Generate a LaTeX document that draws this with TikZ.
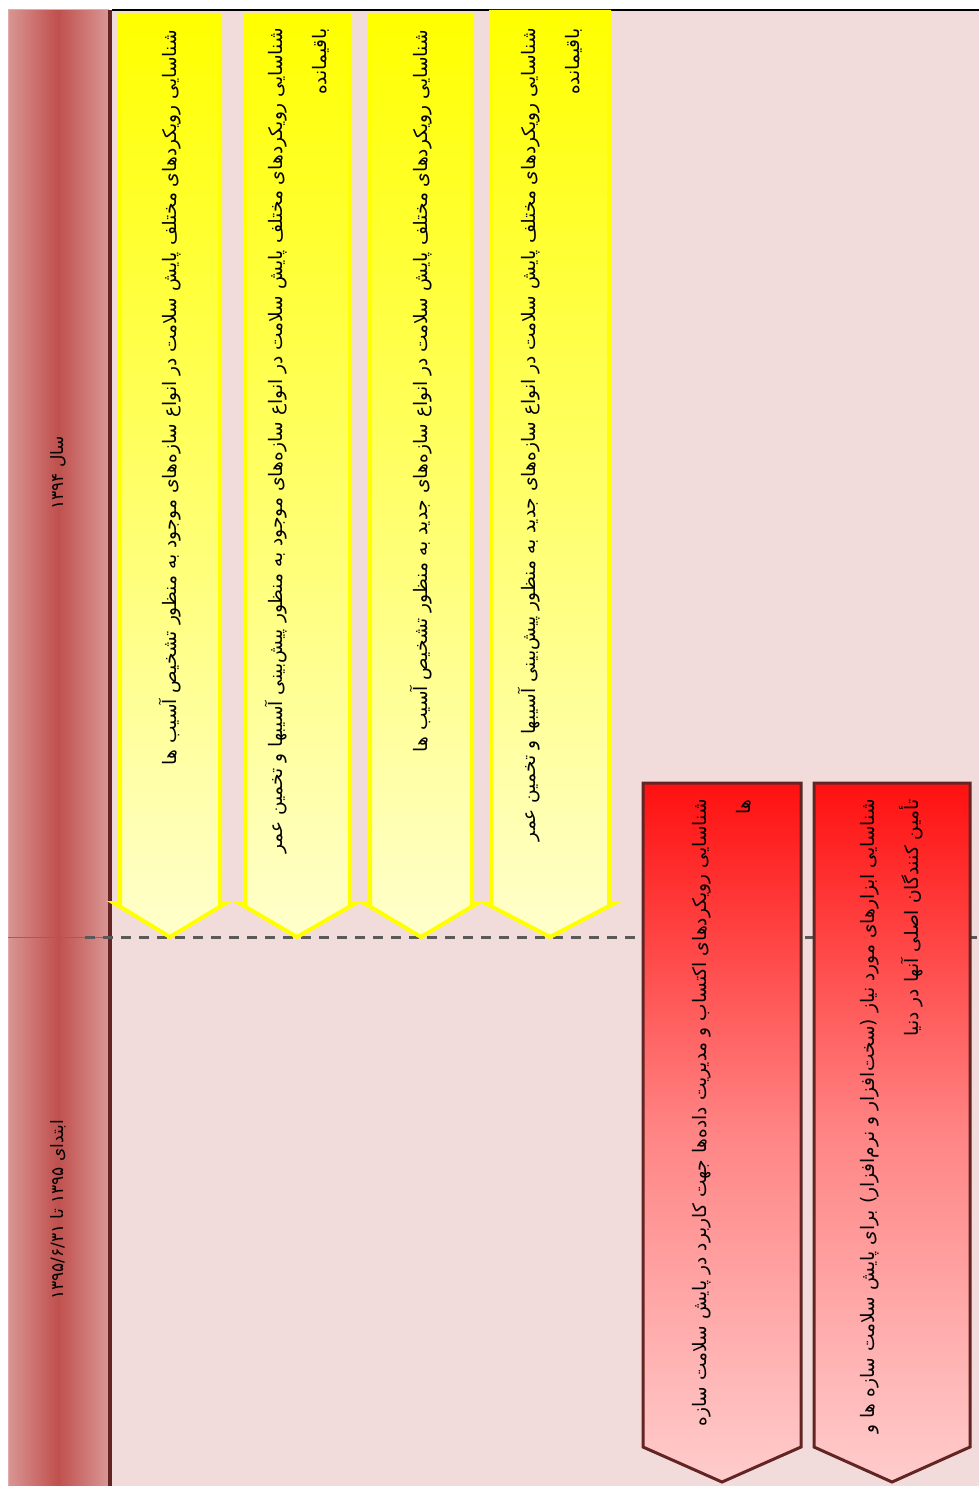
\documentclass[tikz,border=0pt]{standalone}
\usepackage{fontspec}
\newfontfamily\farsifont[Script=Arabic]{DejaVu Sans}
\TeXXeTstate=1
\usetikzlibrary{positioning}
\definecolor{gbg}{HTML}{F2DCDB}
\definecolor{ghead}{HTML}{C0504D}
\definecolor{gheadlight}{HTML}{D99694}
\definecolor{gdark}{HTML}{632523}
\definecolor{gline}{HTML}{595959}
\definecolor{gyellow}{HTML}{FFFF00}
\definecolor{gyellowlight}{HTML}{FFFFCC}
\definecolor{gred}{HTML}{FF1010}
\definecolor{gredlight}{HTML}{FFCCCC}
\tikzset{
  ybar/.style={draw=gyellow, line width=2pt, top color=gyellow, bottom color=gyellowlight},
  rbar/.style={draw=gdark, line width=1.5pt, top color=gred, bottom color=gredlight,
               middle color=gred!38!gredlight},
  tasktext/.style={rotate=90, anchor=east, align=right, inner sep=0pt,
                   font=\farsifont\fontsize{9.3}{22}\selectfont},
  headtext/.style={rotate=90, inner sep=0pt,
                   font=\farsifont\fontsize{8.5}{10}\selectfont},
  nowline/.style={gline, line width=1.5pt, dash pattern=on 5pt off 4pt},
}

\begin{document}
\begin{tikzpicture}[x=0.5pt, y=-0.5pt]

  \useasboundingbox (0,0) rectangle (979,1486);

  % background of the chart
  \fill[gbg] (112,10) rectangle (979,1486);
  \draw[black, line width=0.8pt] (112,10) -- (979,10);

  % period header
  \shade[left color=gheadlight, right color=gheadlight, middle color=ghead]
    (8,10) rectangle (108,1486);
  \draw[gheadlight!80!white, line width=0.5pt] (8,10) rectangle (108,1486);
  \draw[ghead, line width=0.5pt] (8,937) -- (108,937);
  \draw[gdark, line width=2pt] (110,10) -- (110,1486);

  \node[headtext] (y94) at (58,473) {\beginR سال \beginL۱۳۹۴\endL{}\endR};
  \node[headtext] (y95) at (58,1210)
    {\beginR ابتدای \beginL۱۳۹۵\endL{} تا \beginL۱۳۹۵/۶/۳۱\endL{}\endR};

  % today line
  \draw[nowline] (85,937) -- (979,937);

  % yellow tasks
  \draw[ybar] (120,15) -- (220,15) -- (220,903) -- (226,903) -- (170,937)
    -- (114,903) -- (120,903) -- cycle;
  \draw[ybar] (245,15) -- (350,15) -- (350,903) -- (356,903) -- (297,937)
    -- (239,903) -- (245,903) -- cycle;
  \draw[ybar] (370,15) -- (472,15) -- (472,903) -- (478,903) -- (421,937)
    -- (364,903) -- (370,903) -- cycle;
  \draw[ybar] (491,12) -- (609,12) -- (609,903) -- (615,903) -- (550,937)
    -- (485,903) -- (491,903) -- cycle;

  \node[tasktext] (t1) at (170,30)
    {\beginR شناسایی رویکردهای مختلف پایش سلامت در انواع سازه‌های موجود به منظور تشخیص آسیب ها\endR};
  \node[tasktext] (t2) at (297,28)
    {\beginR شناسایی رویکردهای مختلف پایش سلامت در انواع سازه‌های موجود به منظور پیش‌بینی آسیبها و تخمین عمر\endR\\
     \beginR باقیمانده\endR};
  \node[tasktext] (t3) at (421,30)
    {\beginR شناسایی رویکردهای مختلف پایش سلامت در انواع سازه‌های جدید به منظور تشخیص آسیب ها\endR};
  \node[tasktext] (t4) at (550,28)
    {\beginR شناسایی رویکردهای مختلف پایش سلامت در انواع سازه‌های جدید به منظور پیش‌بینی آسیبها و تخمین عمر\endR\\
     \beginR باقیمانده\endR};

  % red tasks
  \draw[rbar] (643,783) -- (801,783) -- (801,1447) -- (722,1482)
    -- (643,1447) -- cycle;
  \draw[rbar] (814,783) -- (970,783) -- (970,1447) -- (892,1482)
    -- (814,1447) -- cycle;

  \node[tasktext] (t5) at (722,799)
    {\beginR شناسایی رویکردهای اکتساب و مدیریت داده‌ها جهت کاربرد در پایش سلامت سازه\endR\\
     \beginR ها\endR};
  \node[tasktext] (t6) at (892,799)
    {\beginR شناسایی ابزارهای مورد نیاز (سخت‌افزار و نرم‌افزار) برای پایش سلامت سازه ها و\endR\\
     \beginR تأمین کنندگان اصلی آنها در دنیا\endR};

\end{tikzpicture}
\end{document}
